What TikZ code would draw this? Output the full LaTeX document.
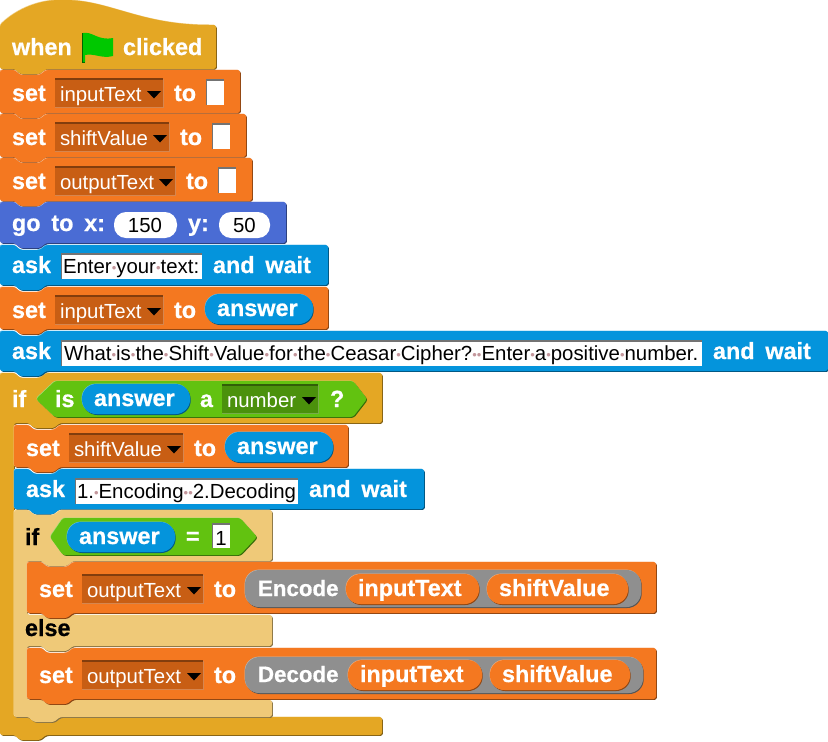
\documentclass[tikz,border=0pt]{standalone}
\usepackage{fontspec}
\setmainfont{Liberation Sans}[BoldFeatures={FakeBold=0.7}]
\definecolor{gold}{RGB}{228,167,36}
\definecolor{lgold}{RGB}{239,201,120}
\definecolor{orng}{RGB}{244,120,32}
\definecolor{skyb}{RGB}{4,148,220}
\definecolor{motn}{RGB}{74,108,212}
\definecolor{grn}{RGB}{98,194,16}
\definecolor{gry}{RGB}{143,143,143}
\definecolor{ddo}{RGB}{200,94,20}
\definecolor{ddg}{RGB}{75,145,12}
\definecolor{spc}{RGB}{195,150,155}
\definecolor{flag}{RGB}{0,200,0}
\newcount\nn
\newcommand{\so}{0}
\newcommand{\wf}{\fontsize{23.4}{26}\selectfont\bfseries\spaceskip=0.46em\relax}
\newcommand{\wfs}{\fontsize{22.3}{26}\selectfont}
\newcommand{\rf}{\fontsize{20.4}{23}\selectfont}
\newcommand{\sd}{\makebox[4.6pt]{\fontsize{13}{13}\selectfont\color{spc}\raisebox{0.4pt}{•}}}
\newcommand{\wt}[3]{\global\advance\nn by 1 \node[wlabel,name=w\the\nn] at ({#1},{#2}) {#3};}
\newcommand{\bt}[3]{\global\advance\nn by 1 \node[wlabel,text=black,name=b\the\nn] at ({#1},{#2}) {#3};}
\newcommand{\rt}[3]{\global\advance\nn by 1 \node[rlabel,name=r\the\nn] at ({#1},{#2}) {#3};}
\newcommand{\wlt}[3]{\global\advance\nn by 1 \node[rlabel,text=white,name=l\the\nn] at ({#1},{#2}) {#3};}
\newcommand{\ct}[3]{\global\advance\nn by 1 \node[rlabel,anchor=base,name=c\the\nn] at ({#1},{#2}) {#3};}
\newcommand{\bev}[2]{%
  \fill[#1!55!black,shift={(0.9,0.9)},rounded corners=2.5] #2;
  \fill[#1!55!white,shift={(-0.5,-0.5)},rounded corners=2.5] #2;
  \fill[#1,rounded corners=2.5] #2;}
% stack block: colour, x1,y1,x2,y2
\newcommand{\blk}[5]{\bev{#1}{({#2},{#3}) -- ({#2+15},{#3}) -- ({#2+20},{#3+5}) -- ({#2+40},{#3+5}) -- ({#2+46},{#3}) -- ({#4},{#3}) -- ({#4},{#5}) -- ({#2+46},{#5}) -- ({#2+40},{#5+5}) -- ({#2+20},{#5+5}) -- ({#2+15},{#5}) -- ({#2},{#5}) -- cycle}}
% text slot and round slot
\newcommand{\slot}[4]{\fill[black!55] (#1,#2) rectangle (#3,#4); \fill[white] ({#1+1},{#2+1.5}) rectangle (#3,#4);}
\newcommand{\rslot}[4]{\fill[white,rounded corners=12] (#1,#2) rectangle (#3,#4);}
\newcommand{\pill}[5]{\fill[#5!60!black,rounded corners=14.5,shift={(0.7,1)}] ({#1},{#2}) rectangle ({#3},{#4}); \fill[#5!60!white,rounded corners=14.5,shift={(-0.4,-0.4)}] ({#1},{#2}) rectangle ({#3},{#4}); \fill[#5,rounded corners=14.5] ({#1},{#2}) rectangle ({#3},{#4});}
\newcommand{\drop}[6]{%
  \fill[#6!75!white] ({#1-0.5},{#2}) rectangle ({#3+0.7},{#4+0.7});
  \fill[#6!65!black] ({#1-0.5},{#2-0.7}) rectangle ({#3},{#4-0.3});
  \fill[#6] ({#1},{#2+1}) rectangle ({#3-0.3},{#4-0.5});
  \wlt{#1+5}{#4-5.5}{#5}
  \fill[black] ({#3-16},{#2+12}) -- ({#3-2},{#2+12}) -- ({#3-9},{#2+19.5}) -- cycle;}
\newcommand{\answer}[2]{\pill{#1}{#2}{#1+108}{#2+30}{skyb}\wt{#1+12}{#2+22}{answer}}
\newcommand{\setblk}[7]{% x,ytop,xright,ybottom, box right, to-x,label
  \blk{orng}{#1}{#2}{#3}{#4}
  \wt{#1+12}{#2+\so+31}{set}
  \drop{#1+55}{#2+\so+9}{#5}{#2+\so+37}{#7}{ddo}
  \wt{#6}{#2+\so+31}{to}}
\tikzset{
  wlabel/.style={anchor=base west,inner sep=0pt,outer sep=0pt,text=white,font=\wf},
  rlabel/.style={anchor=base west,inner sep=0pt,outer sep=0pt,text=black,font=\rf},
}
\begin{document}
\begin{tikzpicture}[x=1pt,y=-1pt]
\path[use as bounding box,fill=white] (0,0) rectangle (828,742);
% outer if (C block)
\bev{gold}{(0,373) -- (15,373) -- (20,378) -- (40,378) -- (46,373) -- (382,373) -- (382,423) -- (60,423) -- (54,428) -- (34,428) -- (29,423) -- (14,423) -- (14,717) -- (382,717) -- (382,735) -- (46,735) -- (40,740) -- (20,740) -- (15,735) -- (0,735) -- cycle}
% hat
\bev{gold}{(0,25) .. controls (18,8) and (40,0) .. (62,0) .. controls (110,0) and (140,25) .. (212,25) -- (216,25) -- (216,69) -- (46,69) -- (40,74) -- (20,74) -- (15,69) -- (0,69) -- cycle}
\wt{12}{55}{when}
\fill[flag!50!black] (82,33) rectangle (85,63);
\fill[flag] (83,33) .. controls (92,31) and (98,41) .. (113,38) -- (113,56) .. controls (102,59) and (94,53) .. (85,55) -- (85,62) -- (83,62) -- cycle;
\wt{123}{55}{clicked}
% set 1-3
\setblk{0}{70}{240}{113}{163}{174}{inputText}
\slot{206}{79}{224}{105}
\setblk{0}{114}{246}{157}{169}{180}{shiftValue}
\slot{212}{123}{230}{149}
\setblk{0}{158}{252}{201}{175}{186}{outputText}
\slot{218}{167}{236}{193}
% go to
\blk{motn}{0}{202}{286}{243}
\wt{12}{231}{go to x:}
\rslot{114}{212}{177}{238}
\ct{145}{232}{150}
\wt{188}{231}{y:}
\rslot{219}{212}{270}{238}
\ct{244.5}{232}{50}
% ask 1
\blk{skyb}{0}{245}{328}{285}
\wt{12}{273}{ask}
\slot{61}{253}{202}{279}
\rt{63}{273}{Enter\sd your\sd text:}
\wt{213}{273}{and wait}
% set answer
\setblk{0}{287}{328}{329}{163}{174}{inputText}
\answer{205}{294}
% ask 2
\blk{skyb}{0}{331}{828}{371}
\wt{12}{359}{ask}
\slot{61}{340}{702}{366}
\rt{64}{360}{What\sd is\sd the\sd Shift\sd Value\sd for\sd the\sd Ceasar\sd Cipher?\sd\sd Enter\sd a\sd positive\sd number.}
\wt{713}{359}{and wait}
% if header
\wt{12}{407}{if}
\bev{grn}{(36,399) -- (55,381) -- (353,381) -- (367,399) -- (353,417) -- (55,417) -- cycle}
\wt{55}{407}{is}
\pill{82}{384}{190}{414}{skyb}
\wt{94}{406}{answer}
\wt{200}{407}{a}
\drop{222}{385}{318}{413}{number}{ddg}
\wt{330}{407}{?}
% set shift
\setblk{14}{425}{348}{467}{183}{194}{shiftValue}
\answer{225}{432}
% ask 3
\blk{skyb}{14}{469}{424}{509}
\wt{26}{497}{ask}
\slot{75}{478}{298}{504}
\rt{77}{498}{1.\sd Encoding\sd\sd 2.Decoding}
\wt{309}{497}{and wait}
% inner if else
\bev{lgold}{(14,510) -- (29,510) -- (34,515) -- (54,515) -- (60,510) -- (272,510) -- (272,561) -- (73,561) -- (67,566) -- (47,566) -- (42,561) -- (27,561) -- (27,615) -- (272,615) -- (272,646) -- (73,646) -- (67,651) -- (47,651) -- (42,646) -- (27,646) -- (27,700) -- (272,700) -- (272,717) -- (60,717) -- (54,722) -- (34,722) -- (29,717) -- (14,717) -- cycle}
\bt{25}{545}{if}
\bev{grn}{(50,537) -- (63,518) -- (240,518) -- (257,537) -- (240,555) -- (63,555) -- cycle}
\pill{67}{522}{175}{552}{skyb}
\wt{79}{544}{answer}
\wt{186}{544}{=}
\slot{212}{523}{230}{548}
\ct{221}{545}{1}
\bt{25}{636}{else}
% encode
\renewcommand{\so}{4}
\setblk{27}{562}{656}{613}{203}{214}{outputText}
\pill{245}{570}{641}{607}{gry}
\wt{258}{596}{\wfs Encode}
\pill{346}{574}{479}{604}{orng}
\wt{358}{596}{inputText}
\pill{487}{574}{628}{604}{orng}
\wt{499}{596}{shiftValue}
% decode
\setblk{27}{648}{656}{699}{203}{214}{outputText}
\pill{245}{657}{643}{693}{gry}
\wt{258}{682}{\wfs Decode}
\pill{348}{660}{482}{690}{orng}
\wt{360}{682}{inputText}
\pill{490}{660}{630}{690}{orng}
\wt{502}{682}{shiftValue}
\end{tikzpicture}
\end{document}
